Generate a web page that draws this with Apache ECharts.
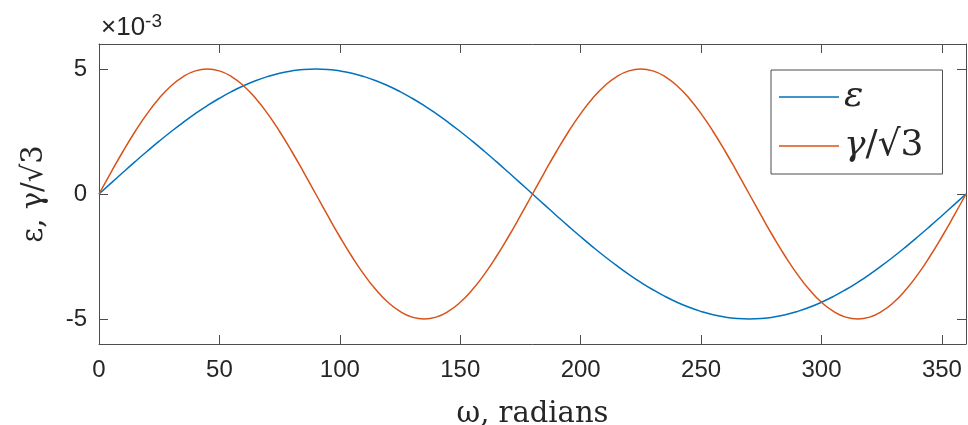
<!DOCTYPE html>
<html>
<head>
<meta charset="utf-8">
<script src="https://cdn.jsdelivr.net/npm/echarts@6/dist/echarts.min.js"></script>
<style>
  html, body { margin: 0; padding: 0; background: #fff; }
  #chart { width: 968px; height: 425px; }
</style>
</head>
<body>
<div id="chart"></div>
<script>
// omega, degrees (labelled "radians" on the original)
const omega = [
  0, 5, 10, 15, 20, 25, 30, 35, 40, 45, 50, 55, 60, 65, 70, 75, 80, 85, 90,
  95, 100, 105, 110, 115, 120, 125, 130, 135, 140, 145, 150, 155, 160, 165, 170, 175, 180,
  185, 190, 195, 200, 205, 210, 215, 220, 225, 230, 235, 240, 245, 250, 255, 260, 265, 270,
  275, 280, 285, 290, 295, 300, 305, 310, 315, 320, 325, 330, 335, 340, 345, 350, 355, 360
]

// epsilon, x 1e-3
const epsilon = [
  0, 0.436, 0.868, 1.294, 1.710, 2.113, 2.5, 2.868, 3.214, 3.536, 3.830, 4.096, 4.330, 4.532, 4.698, 4.830, 4.924, 4.981, 5.0,
  4.981, 4.924, 4.830, 4.698, 4.532, 4.330, 4.096, 3.830, 3.536, 3.214, 2.868, 2.5, 2.113, 1.710, 1.294, 0.868, 0.436, 0,
  -0.436, -0.868, -1.294, -1.710, -2.113, -2.5, -2.868, -3.214, -3.536, -3.830, -4.096, -4.330, -4.532, -4.698, -4.830, -4.924, -4.981, -5.0,
  -4.981, -4.924, -4.830, -4.698, -4.532, -4.330, -4.096, -3.830, -3.536, -3.214, -2.868, -2.5, -2.113, -1.710, -1.294, -0.868, -0.436, 0
]

// gamma / sqrt(3), x 1e-3
const gammaR3 = [
  0, 0.868, 1.710, 2.5, 3.214, 3.830, 4.330, 4.698, 4.924, 5.0, 4.924, 4.698, 4.330, 3.830, 3.214, 2.5, 1.710, 0.868, 0,
  -0.868, -1.710, -2.5, -3.214, -3.830, -4.330, -4.698, -4.924, -5.0, -4.924, -4.698, -4.330, -3.830, -3.214, -2.5, -1.710, -0.868, 0,
  0.868, 1.710, 2.5, 3.214, 3.830, 4.330, 4.698, 4.924, 5.0, 4.924, 4.698, 4.330, 3.830, 3.214, 2.5, 1.710, 0.868, 0,
  -0.868, -1.710, -2.5, -3.214, -3.830, -4.330, -4.698, -4.924, -5.0, -4.924, -4.698, -4.330, -3.830, -3.214, -2.5, -1.710, -0.868, 0
]

const yTicks = [-5, 0, 5]

const axisColor = '#4d4d4d'
const labelColor = '#262626'
const serif = '"DejaVu Serif", "Liberation Serif", serif'
const sans = '"Liberation Sans", Arial, sans-serif'

const pairs = ys => omega.map((x, i) => [x, ys[i]])

const chart = echarts.init(document.getElementById('chart'))

const axisLine = { show: true, onZero: false, lineStyle: { color: axisColor, width: 1 } }
const tick = { show: true, inside: true, length: 9, lineStyle: { color: axisColor } }

chart.setOption({
  animation: false,
  backgroundColor: '#fff',
  grid: { left: 99, top: 44, right: 2, bottom: 81, outerBoundsMode: 'none', containLabel: false },
  xAxis: [
    {
      type: 'value', min: 0, max: 360, interval: 50,
      axisLine, axisTick: tick, splitLine: { show: false },
      axisLabel: { color: labelColor, fontFamily: sans, fontSize: 24, margin: 14 },
      name: 'ω, radians', nameLocation: 'middle', nameGap: 56,
      nameTextStyle: { fontFamily: serif, fontSize: 29, color: labelColor }
    },
    {
      type: 'value', min: 0, max: 360, interval: 50, position: 'top',
      axisLine, axisTick: tick, splitLine: { show: false }, axisLabel: { show: false }
    }
  ],
  yAxis: [
    {
      type: 'value', min: -6, max: 6,
      axisLine, splitLine: { show: false },
      axisTick: { ...tick, customValues: yTicks },
      axisLabel: { color: labelColor, fontFamily: sans, fontSize: 24, margin: 12, customValues: yTicks },
      name: 'ε, γ/√3', nameLocation: 'middle', nameGap: 50,
      nameTextStyle: { fontFamily: serif, fontSize: 29, color: labelColor }
    },
    {
      type: 'value', min: -6, max: 6, position: 'right',
      axisLine, splitLine: { show: false },
      axisTick: { ...tick, customValues: yTicks },
      axisLabel: { show: false }
    }
  ],
  legend: {
    orient: 'vertical', left: 771, top: 70,
    icon: 'rect', itemWidth: 60, itemHeight: 1.5, itemGap: 13,
    padding: [9, 19, 10, 8],
    borderColor: axisColor, borderWidth: 1, backgroundColor: '#fff',
    formatter: name => name === 'ε' ? '{i|ε}' : '{i|γ}{n|/√3}',
    textStyle: {
      color: labelColor,
      rich: {
        i: { fontFamily: serif, fontSize: 36, fontStyle: 'italic', fill: labelColor },
        n: { fontFamily: serif, fontSize: 36, fill: labelColor }
      }
    },
    data: ['ε', 'γ/√3']
  },
  graphic: [
    {
      type: 'text', left: 101, top: 12,
      style: {
        text: '{a|×10}{b|-3}',
        rich: {
          a: { fontFamily: sans, fontSize: 26, fill: labelColor },
          b: { fontFamily: sans, fontSize: 19, fill: labelColor, verticalAlign: 'top', padding: [0, 0, 12, 0] }
        }
      }
    }
  ],
  series: [
    {
      name: 'ε', type: 'line', data: pairs(epsilon), smooth: true,
      symbol: 'none', lineStyle: { color: '#0072BD', width: 1.5 }, itemStyle: { color: '#0072BD' }
    },
    {
      name: 'γ/√3', type: 'line', data: pairs(gammaR3), smooth: true,
      symbol: 'none', lineStyle: { color: '#D95319', width: 1.5 }, itemStyle: { color: '#D95319' }
    }
  ]
})
</script>
</body>
</html>
